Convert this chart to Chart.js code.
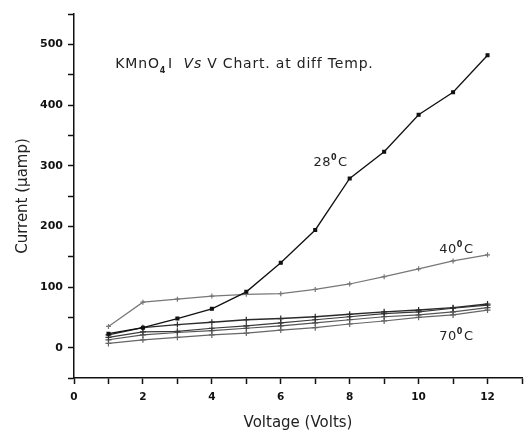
<!DOCTYPE html>
<html>
<head>
<meta charset="utf-8">
<script src="https://cdn.jsdelivr.net/npm/chart.js@4"></script>
<style>
html,body{margin:0;padding:0;background:#fff;}
#wrap{width:529px;height:432px;position:relative;}
</style>
</head>
<body>
<div id="wrap"><canvas id="c"></canvas></div>
<script>
const voltage = [1,2,3,4,5,6,7,8,9,10,11,12];
const current28 = [23,33,48,64,92,140,194,279,323,384,421,482];
const current40 = [35,75,80,85,88,89,96,105,117,130,143,153];
const currentA = [21,33,38,42,46,48,51,55,59,62,66,72];
const currentB = [17,26,27,32,36,41,46,51,56,59,65,70];
const currentC = [13,21,25,28,32,36,41,46,51,54,59,66];
const current70 = [7,13,17,21,24,29,33,39,44,50,54,62];
const xTickLabels = [0,2,4,6,8,10,12];
const yTickLabels = [0,100,200,300,400,500];

function pts(ys){ return voltage.map((x,i)=>({x:x,y:ys[i]})); }

const annotations = {
  id:'annot',
  afterDatasetsDraw(chart){
    const ctx = chart.ctx, xs = chart.scales.x, ys = chart.scales.y;
    ctx.save();
    ctx.fillStyle = '#222';
    ctx.textBaseline = 'alphabetic';
    function seq(x, y, parts, ls){
      let px = xs.getPixelForValue(x), py = ys.getPixelForValue(y);
      ctx.letterSpacing = ls || '0px';
      parts.forEach(p=>{
        ctx.font = p.f;
        ctx.fillText(p.t, px, py + (p.dy||0));
        px += ctx.measureText(p.t).width + (p.gap||0);
      });
      ctx.letterSpacing = '0px';
    }
    const F = '14px "DejaVu Sans", sans-serif';
    const FI = 'italic 14px "DejaVu Sans", sans-serif';
    const FS = 'bold 8px "DejaVu Sans", sans-serif';
    const FL = '13px "DejaVu Sans", sans-serif';
    seq(1.2, 461, [
      {t:'KMnO',f:F},{t:'4',f:FS,dy:5,gap:2},{t:'I  ',f:F},{t:'Vs',f:FI},{t:' V Chart. at diff Temp.',f:F}
    ], '0.8px');
    seq(6.95, 300, [{t:'28',f:FL},{t:'0',f:FS,dy:-6,gap:1},{t:'C',f:FL}], '0.5px');
    seq(10.6, 156, [{t:'40',f:FL},{t:'0',f:FS,dy:-6,gap:1},{t:'C',f:FL}], '0.5px');
    seq(10.6, 13, [{t:'70',f:FL},{t:'0',f:FS,dy:-6,gap:1},{t:'C',f:FL}], '0.5px');
    ctx.restore();
  }
};

function ds(label, ys, color, style, r, bw){
  return {label:label, data:pts(ys), showLine:true, borderColor:color, backgroundColor:color,
    borderWidth:bw||1.2, pointStyle:style, pointRadius:r, pointBorderWidth:1.2, pointBorderColor:color, tension:0};
}

new Chart(document.getElementById('c'), {
  type:'scatter',
  data:{datasets:[
    ds('28°C', current28, '#111', 'rect', 2, 1.3),
    ds('40°C', current40, '#777', 'cross', 2.5, 1.2),
    ds('A', currentA, '#2a2a2a', 'cross', 3, 1.4),
    ds('B', currentB, '#3a3a3a', 'cross', 3, 1.2),
    ds('C', currentC, '#555', 'cross', 3, 1.2),
    ds('70°C', current70, '#666', 'cross', 3, 1.2)
  ]},
  options:{
    responsive:true, maintainAspectRatio:false, animation:false,
    layout:{padding:{left:14,right:7,top:14,bottom:0}},
    plugins:{legend:{display:false}, tooltip:{enabled:false}},
    scales:{
      x:{type:'linear', min:0, max:13,
        border:{display:true,color:'#111',width:1.5},
        grid:{display:true, drawOnChartArea:false, drawTicks:true, tickLength:6, tickColor:'#111', tickWidth:1.5},
        ticks:{stepSize:1, autoSkip:false, maxRotation:0, color:'#111', padding:7,
          font:{family:'"DejaVu Sans", sans-serif', size:10.5, weight:'bold'},
          callback:(v)=> xTickLabels.includes(v) ? String(v) : ''},
        title:{display:true, text:'Voltage (Volts)', color:'#222', padding:{top:4,bottom:0},
          font:{family:'"DejaVu Sans", sans-serif', size:15}},
        afterFit(s){ s.height = 54; }
      },
      y:{type:'linear', min:-50, max:550,
        border:{display:true,color:'#111',width:1.5},
        grid:{display:true, drawOnChartArea:false, drawTicks:true, tickLength:6, tickColor:'#111', tickWidth:1.5},
        ticks:{stepSize:50, autoSkip:false, color:'#111', padding:5,
          font:{family:'"DejaVu Sans", sans-serif', size:11, weight:'bold'},
          callback:(v)=> yTickLabels.includes(v) ? String(v) : ''},
        title:{display:true, text:'Current (μamp)', color:'#222', padding:{top:0,bottom:14},
          font:{family:'"DejaVu Sans", sans-serif', size:15}},
        afterFit(s){ s.width = 60; }
      }
    }
  },
  plugins:[annotations]
});
</script>
</body>
</html>
